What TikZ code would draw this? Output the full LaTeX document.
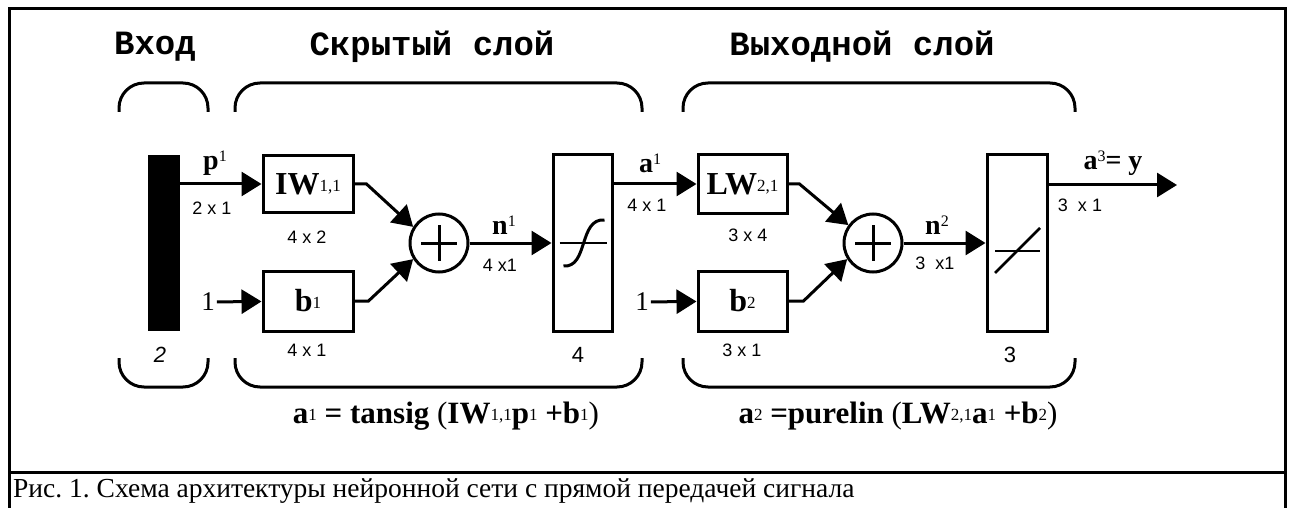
\documentclass[tikz,border=0pt]{standalone}
\usepackage{fontspec}
\setmainfont{Liberation Serif}
\setsansfont{Liberation Sans}
\setmonofont{Liberation Mono}
\usetikzlibrary{positioning,arrows.meta,calc}
\frenchspacing
\newcommand{\fsz}[1]{\fontsize{#1}{#1}\selectfont}
\newcommand{\idxup}[1]{{\normalfont\fsz{16}\raisebox{8pt}{#1}}}
\newcommand{\idxmid}[1]{{\normalfont\fsz{17}\raisebox{3pt}{#1}}}
\tikzset{
  frm/.style={line width=3pt},
  brk/.style={line width=3pt, rounded corners=25pt},
  blk/.style={draw, line width=3pt, inner sep=0pt, font=\fsz{32}\bfseries},
  sumc/.style={draw, circle, line width=3pt, minimum size=58pt, inner sep=0pt},
  ar/.style={-{Triangle[length=20pt,width=24pt]}, line width=3pt},
  hdr/.style={font=\ttfamily\bfseries\fsz{34}, inner sep=0pt},
  lbl/.style={font=\bfseries\fsz{28}, inner sep=0pt},
  dim/.style={font=\sffamily\fsz{18}, inner sep=0pt},
  sz/.style={font=\sffamily\fsz{22}, inner sep=0pt},
  one/.style={font=\fsz{27}, inner sep=2pt},
  eqn/.style={font=\bfseries\fsz{31}, inner sep=0pt},
  captxt/.style={font=\fsz{27.5}, inner sep=0pt, anchor=west},
}
\begin{document}
\begin{tikzpicture}[x=1pt,y=-1pt]
  \useasboundingbox (0,0) rectangle (1291,508);
  % frame and caption row
  \draw[frm] (9,508) -- (9,9) -- (1285,9) -- (1285,508);
  \draw[frm] (9,472) -- (1285,472);
  \node[captxt] (caption) at (13,491) {Рис. 1. Схема архитектуры нейронной сети с прямой передачей сигнала};

  % headers and brackets
  \node[hdr] (hin) at (155,47) {Вход};
  \node[hdr] (hhid) at (432,47) {Скрытый слой};
  \node[hdr] (hout) at (862,47) {Выходной слой};
  \draw[brk] (119,112) -- (119,83) -- (208,83) -- (208,112);
  \draw[brk] (235,112) -- (235,83) -- (642,83) -- (642,112);
  \draw[brk] (683,112) -- (683,83) -- (1075,83) -- (1075,112);
  \draw[brk] (119,358) -- (119,387) -- (208,387) -- (208,358);
  \draw[brk] (235,358) -- (235,387) -- (642,387) -- (642,358);
  \draw[brk] (683,358) -- (683,387) -- (1075,387) -- (1075,358);

  % blocks
  \node[fill, minimum width=32pt, minimum height=176pt, inner sep=0pt] (inbar) at (164,243) {};
  \node[blk, minimum width=90pt, minimum height=57pt] (iw) at (308,184) {IW\idxmid{1,1}};
  \node[blk, minimum width=90pt, minimum height=60pt] (bone) at (308,301) {b\idxmid{1}};
  \node[sumc] (sumone) at (439,243) {};
  \node[blk, minimum width=59pt, minimum height=176pt] (tanbox) at (582.5,243) {};
  \node[blk, minimum width=89pt, minimum height=58pt] (lw) at (742.5,184) {LW\idxmid{2,1}};
  \node[blk, minimum width=89pt, minimum height=60pt] (btwo) at (742.5,301) {b\idxmid{2}};
  \node[sumc] (sumtwo) at (873,243) {};
  \node[blk, minimum width=60pt, minimum height=176pt] (purbox) at (1017,243) {};
  \coordinate (yout) at (1177,185);
  \node[one] (onea) at (208,302) {1};
  \node[one] (oneb) at (642,302) {1};

  % plus signs and transfer functions
  \foreach \s in {sumone,sumtwo}{
    \draw[line width=3pt] ($(\s.center)+(-18,0)$) -- ($(\s.center)+(18,0)$);
    \draw[line width=3pt] ($(\s.center)+(0,-18)$) -- ($(\s.center)+(0,18)$);
  }
  \draw[line width=2pt] ($(tanbox.center)+(-23,0)$) -- ($(tanbox.center)+(24,0)$);
  \draw[line width=3pt, shift={(tanbox.center)}] (-19,23) .. controls (6,25) and (-4,-25) .. (22,-23);
  \draw[line width=2pt] ($(purbox.center)+(-22,8)$) -- ($(purbox.center)+(23,8)$);
  \draw[line width=2.5pt] ($(purbox.center)+(-22,30)$) -- ($(purbox.center)+(23,-15)$);

  % connectors
  \draw[ar] (inbar.east |- iw.west) -- (iw.west);
  \draw[ar] (onea) -- (bone);
  \draw[ar] (iw.east) -- ++(12,0) -- (sumone.148);
  \draw[ar] (bone.east) -- ++(14,0) -- (sumone.212);
  \draw[ar] (sumone) -- (tanbox);
  \draw[ar] (tanbox.east |- lw.west) -- (lw.west);
  \draw[ar] (oneb) -- (btwo);
  \draw[ar] (lw.east) -- ++(11,0) -- (sumtwo.144);
  \draw[ar] (btwo.east) -- ++(15,0) -- (sumtwo.212);
  \draw[ar] (sumtwo) -- (purbox);
  \draw[ar] (purbox.east |- yout) -- (yout);

  % signal labels and sizes
  \node[lbl] (lp) at (215,163) {p\idxup{1}};
  \node[dim] (dp) at (212,208) {2 x 1};
  \node[dim] (diw) at (307,237) {4 x 2};
  \node[dim] (dbone) at (307,350) {4 x 1};
  \node[lbl] (lnone) at (504,225) {n\idxup{1}};
  \node[dim] (dnone) at (500,265) {4 x1};
  \node[sz] (sin) at (160,355) {\textit{2}};
  \node[sz] (shid) at (578,355) {4};
  \node[lbl] (laone) at (650,163) {a\idxup{1}};
  \node[dim] (daone) at (647,205) {4 x 1};
  \node[dim] (dlw) at (748,235) {3 x 4};
  \node[dim] (dbtwo) at (742,350) {3 x 1};
  \node[lbl] (lntwo) at (937,225) {n\idxup{2}};
  \node[dim] (dntwo) at (935,263) {3 \ x1};
  \node[sz] (sout) at (1010,355) {3};
  \node[lbl] (lathree) at (1113,163) {a\idxup{3}= y};
  \node[dim] (dy) at (1080,205) {3 \ x 1};

  % layer equations
  \node[eqn] (eqone) at (446,416) {a\idxmid{1} = tansig {\normalfont(}IW\idxmid{1,1}p\idxmid{1} +b\idxmid{1}{\normalfont)}};
  \node[eqn] (eqtwo) at (898,416) {a\idxmid{2} =purelin {\normalfont(}LW\idxmid{2,1}a\idxmid{1} +b\idxmid{2}{\normalfont)}};
\end{tikzpicture}
\end{document}
